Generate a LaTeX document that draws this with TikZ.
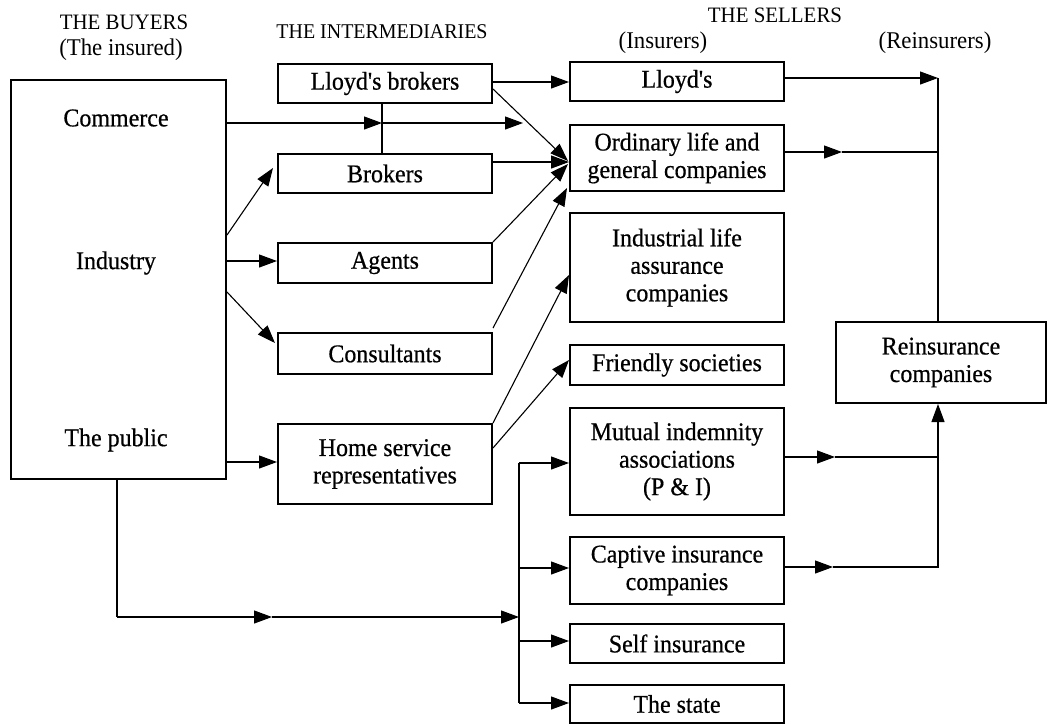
\documentclass[tikz,border=0pt]{standalone}
\usepackage{fontspec}
\setmainfont{Liberation Serif}
\newfontfamily\boxfont{Liberation Serif}[FakeStretch=0.94,FakeBold=0.6]
\newfontfamily\hdrfont{Liberation Serif}[FakeStretch=0.95]
\usetikzlibrary{arrows.meta}
\begin{document}
\begin{tikzpicture}[x=1pt,y=-1pt,
  box/.style={draw, line width=2pt, inner sep=0pt, align=center, font=\boxfont\fontsize{25.5}{27.5}\selectfont},
  iw/.style={minimum width=214pt},
  lbl/.style={inner sep=0pt, font=\boxfont\fontsize{25.5}{27.5}\selectfont},
  hdr/.style={inner sep=0pt, font=\hdrfont\fontsize{22}{25}\selectfont},
  par/.style={inner sep=0pt, font=\hdrfont\fontsize{24}{25}\selectfont},
  con/.style={line width=1.1pt},
  arr/.style={con, -{Triangle[length=18pt,width=13pt]}},
]
\useasboundingbox (0,0) rectangle (1047,724);
% headers
\node[hdr] (h1) at (124,22) {THE BUYERS};
\node[par] (h1b) at (121,50) {(The insured)};
\node[hdr, font=\hdrfont\fontsize{21}{24}\selectfont] (h2) at (382,32) {THE INTERMEDIARIES};
\node[hdr] (h3) at (775,15) {THE SELLERS};
\node[par] (h3a) at (663,43) {(Insurers)};
\node[par] (h3b) at (935,43) {(Reinsurers)};
% buyers
\node[box, minimum width=215pt, minimum height=399pt] (buy) at (118.5,279.5) {};
\node[lbl] (com) at (116,118) {Commerce};
\node[lbl] (ind) at (116,263) {Industry};
\node[lbl] (pub) at (116,440) {The public};
% intermediaries
\node[box, iw, minimum height=39pt] (lb) at (385,83.5) {Lloyd\symbol{39}s brokers};
\node[box, iw, minimum height=39pt] (br) at (385,173.5) {Brokers};
\node[box, iw, minimum height=40pt] (ag) at (385,263) {Agents};
\node[box, iw, minimum height=41pt] (co) at (385,353.5) {Consultants};
\node[box, iw, minimum height=80pt] (hs) at (385,464) {Home service\\representatives};
% sellers
\node[box, iw, minimum height=39pt] (ll) at (677,81.5) {Lloyd\symbol{39}s};
\node[box, iw, minimum height=66pt] (or) at (677,158) {Ordinary life and\\general companies};
\node[box, iw, minimum height=109pt] (il) at (677,267.5) {Industrial life\\assurance\\companies};
\node[box, iw, minimum height=40pt] (fr) at (677,365) {Friendly societies};
\node[box, iw, minimum height=107pt] (mu) at (677,461.5) {Mutual indemnity\\associations\\(P \& I)};
\node[box, iw, minimum height=67pt] (ca) at (677,570.5) {Captive insurance\\companies};
\node[box, iw, minimum height=39pt] (se) at (677,643.5) {Self insurance};
\node[box, iw, minimum height=38pt] (st) at (677,704) {The state};
% reinsurers
\node[box, minimum width=210pt, minimum height=81pt] (rei) at (941,362.5) {Reinsurance\\companies};
% commerce line
\coordinate (j1) at (382,123);
\coordinate (j2) at (523,123);
\draw[arr] (buy.east |- j1) -- (j1);
\draw[arr] (j1) -- (j2);
\draw[con] (lb.south -| j1) -- (br.north -| j1);
% industry arrows
\draw[arr] (buy.east |- 0,235) -- (273,168);
\draw[arr] (buy.east |- 0,261) -- (ag.west |- 0,261);
\draw[arr] (buy.east |- 0,292) -- (275,343);
\draw[arr] (buy.east |- 0,462) -- (hs.west |- 0,462);
% intermediaries to sellers
\draw[arr] (lb.east |- 0,82) -- (ll.west |- 0,82);
\draw[arr] (lb.east |- 0,89) -- (568,161);
\draw[arr] (br.east |- 0,162) -- (or.west |- 0,162);
\draw[arr] (ag.north east) -- (568,164);
\draw[arr] (co.north east |- 0,328) -- (567,188);
\draw[arr] (hs.north east) -- (il.west |- 0,275);
\draw[arr] (hs.east |- 0,448) -- (fr.west |- 0,360);
% public direct line
\coordinate (pb) at (117,617);
\coordinate (pm) at (272,617);
\coordinate (sv) at (519,617);
\draw[con] (buy.south -| pb) -- (pb);
\draw[arr] (pb) -- (pm);
\draw[arr] (pm) -- (sv);
\draw[con] (519,463) -- (519,703);
\draw[arr] (519,463) -- (mu.west |- 0,463);
\draw[arr] (519,568) -- (ca.west |- 0,568);
\draw[arr] (519,641) -- (se.west |- 0,641);
\draw[arr] (519,703) -- (st.west |- 0,703);
% to reinsurers
\coordinate (vt) at (938,78);
\draw[arr] (ll.east |- vt) -- (vt);
\draw[con] (vt) -- (vt |- rei.north);
\draw[arr] (or.east |- 0,152) -- (842,152);
\draw[con] (842,152) -- (vt |- 0,152);
\draw[arr] (mu.east |- 0,457) -- (835,457);
\draw[con] (835,457) -- (vt |- 0,457);
\draw[arr] (ca.east |- 0,567) -- (833,567);
\draw[con] (833,567) -- (vt |- 0,567) -- (vt |- 0,457);
\draw[arr] (vt |- 0,457) -- (vt |- rei.south);
\end{tikzpicture}
\end{document}
